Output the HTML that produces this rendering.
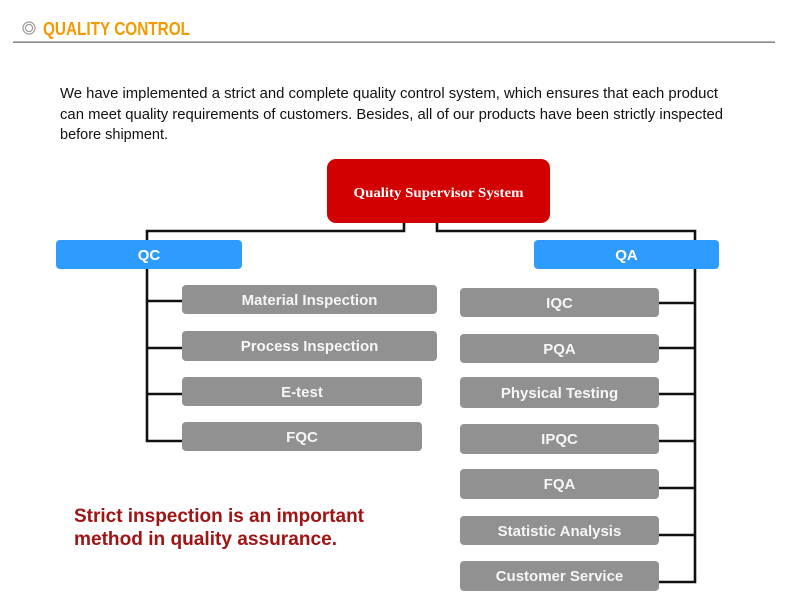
<!DOCTYPE html>
<html>
<head>
<meta charset="utf-8">
<style>
html,body{margin:0;padding:0;background:#fff;}
svg{display:block;}
</style>
</head>
<body>
<svg width="790" height="611" viewBox="0 0 790 611" xmlns="http://www.w3.org/2000/svg">
  <rect width="790" height="611" fill="#ffffff"/>
  <!-- header -->
  <circle cx="29" cy="28" r="6" fill="none" stroke="#9a9a9a" stroke-width="1.2"/>
  <circle cx="29" cy="28" r="3.6" fill="none" stroke="#9a9a9a" stroke-width="1.2"/>
  <text x="43" y="35" font-family="Liberation Sans, sans-serif" font-weight="bold" font-size="18" fill="#f29a00" textLength="147" lengthAdjust="spacingAndGlyphs">QUALITY CONTROL</text>
  <rect x="13" y="41.5" width="762" height="1.3" fill="#6e6e6e"/>

  <!-- paragraph -->
  <g font-family="Liberation Sans, sans-serif" font-size="14.5" fill="#111">
    <text x="60" y="98" textLength="658" lengthAdjust="spacingAndGlyphs">We have implemented a strict and complete quality control system, which ensures that each product</text>
    <text x="60" y="119" textLength="663" lengthAdjust="spacingAndGlyphs">can meet quality requirements of customers. Besides, all of our products have been strictly inspected</text>
    <text x="60" y="139">before shipment.</text>
  </g>

  <!-- connectors -->
  <g fill="none" stroke="#111" stroke-width="2.6">
    <path d="M404 222 V231 H147 V240"/>
    <path d="M437 222 V231 H695 V240"/>
    <path d="M147 269 V441 H182"/>
    <path d="M147 301 H182 M147 348 H182 M147 394 H182"/>
    <path d="M695 269 V582 H659"/>
    <path d="M659 303 H695 M659 348 H695 M659 394 H695 M659 441 H695 M659 488 H695 M659 535 H695"/>
  </g>

  <!-- red root -->
  <rect x="327" y="159" width="223" height="64" rx="9" fill="#d20000"/>
  <text x="438.5" y="197" text-anchor="middle" font-family="Liberation Serif, serif" font-weight="bold" font-size="14" fill="#fff" textLength="170" lengthAdjust="spacingAndGlyphs">Quality Supervisor System</text>

  <!-- blue -->
  <rect x="56" y="240" width="186" height="29" rx="4" fill="#2e9bff"/>
  <text x="149" y="260" text-anchor="middle" font-family="Liberation Sans, sans-serif" font-weight="bold" font-size="15" fill="#fff">QC</text>
  <rect x="534" y="240" width="185" height="29" rx="4" fill="#2e9bff"/>
  <text x="626.5" y="260" text-anchor="middle" font-family="Liberation Sans, sans-serif" font-weight="bold" font-size="15" fill="#fff">QA</text>

  <!-- gray boxes -->
  <g fill="#919191">
    <rect x="182" y="285" width="255" height="29" rx="4"/>
    <rect x="182" y="331" width="255" height="30" rx="4"/>
    <rect x="182" y="377" width="240" height="29" rx="4"/>
    <rect x="182" y="422" width="240" height="29" rx="4"/>
    <rect x="460" y="288" width="199" height="29" rx="4"/>
    <rect x="460" y="334" width="199" height="29" rx="4"/>
    <rect x="460" y="377" width="199" height="31" rx="4"/>
    <rect x="460" y="424" width="199" height="30" rx="4"/>
    <rect x="460" y="469" width="199" height="30" rx="4"/>
    <rect x="460" y="516" width="199" height="29" rx="4"/>
    <rect x="460" y="561" width="199" height="30" rx="4"/>
  </g>
  <g font-family="Liberation Sans, sans-serif" font-weight="bold" font-size="15" fill="#f6f6f6" text-anchor="middle">
    <text x="309.5" y="305">Material Inspection</text>
    <text x="309.5" y="351">Process Inspection</text>
    <text x="302" y="397">E-test</text>
    <text x="302" y="442">FQC</text>
    <text x="559.5" y="308">IQC</text>
    <text x="559.5" y="354">PQA</text>
    <text x="559.5" y="398">Physical Testing</text>
    <text x="559.5" y="444">IPQC</text>
    <text x="559.5" y="489">FQA</text>
    <text x="559.5" y="536">Statistic Analysis</text>
    <text x="559.5" y="581">Customer Service</text>
  </g>

  <!-- red note -->
  <g font-family="Liberation Sans, sans-serif" font-weight="bold" font-size="19" fill="#a01414">
    <text x="74" y="522" textLength="290" lengthAdjust="spacingAndGlyphs">Strict inspection is an important</text>
    <text x="74" y="545" textLength="263" lengthAdjust="spacingAndGlyphs">method in quality assurance.</text>
  </g>
</svg>
</body>
</html>
